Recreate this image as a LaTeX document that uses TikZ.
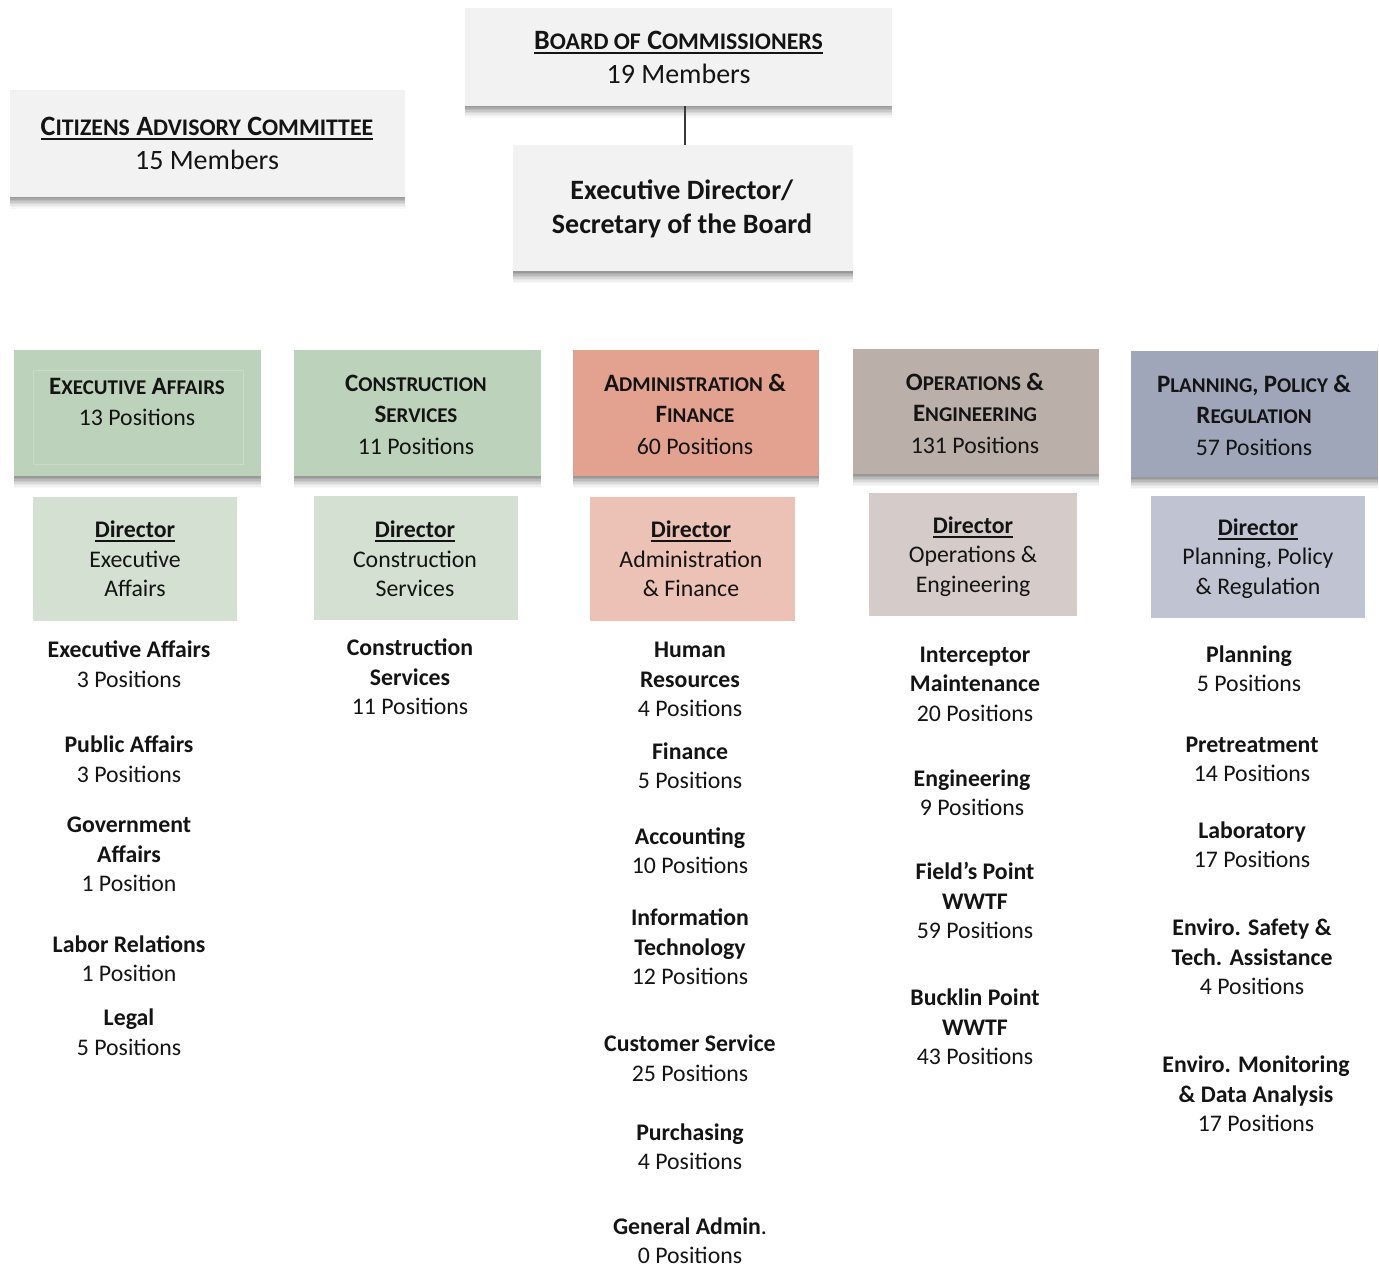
\documentclass[tikz,border=0pt]{standalone}
\usepackage{fontspec}
\setmainfont{Carlito}
\usetikzlibrary{shadows}
\definecolor{txt}{HTML}{141414}
\definecolor{topfill}{HTML}{F2F2F2}
\definecolor{eaF}{HTML}{BDD2BB}
\definecolor{eaD}{HTML}{D4E0D2}
\definecolor{eaL}{HTML}{CADCC7}
\definecolor{afF}{HTML}{E3A18F}
\definecolor{afD}{HTML}{EDC2B6}
\definecolor{oeF}{HTML}{BAAFA9}
\definecolor{oeD}{HTML}{D5CBC8}
\definecolor{ppF}{HTML}{A0A6BA}
\definecolor{ppD}{HTML}{C0C4D2}
\definecolor{lineC}{HTML}{3A3A3A}
\newsavebox\ulbox
\newcommand\ul[1]{\sbox\ulbox{#1}\rlap{\vrule width\wd\ulbox height -2.2pt depth 4.4pt}\usebox\ulbox}
\newcommand\scA[1]{{\fontsize{23.8}{34}\selectfont #1}}
\newcommand\scB[1]{{\fontsize{21}{31.5}\selectfont #1}}
\newcommand\tb[1]{\begin{tabular}{@{}c@{}}#1\end{tabular}}
\newcommand\topf{\fontsize{28}{34}\selectfont}
\newcommand\hdrf{\fontsize{23.8}{31.5}\selectfont}
\newcommand\capB{\fontsize{25}{31.5}\selectfont}
\newcommand\entf{\fontsize{23.8}{29.5}\selectfont}
\tikzset{
  box/.style={draw=none, inner sep=0pt, outer sep=0pt},
  shad/.style={
    drop shadow={shadow xshift=0pt, shadow yshift=-1.5pt, opacity=.12, fill=black!80},
    drop shadow={shadow xshift=0pt, shadow yshift=-3pt, opacity=.12, fill=black!80},
    drop shadow={shadow xshift=0pt, shadow yshift=-4.5pt, opacity=.10, fill=black!80},
    drop shadow={shadow xshift=0pt, shadow yshift=-6pt, opacity=.09, fill=black!80},
    drop shadow={shadow xshift=0pt, shadow yshift=-7.5pt, opacity=.07, fill=black!80},
    drop shadow={shadow xshift=0pt, shadow yshift=-9pt, opacity=.05, fill=black!80},
    drop shadow={shadow xshift=0pt, shadow yshift=-10.5pt, opacity=.04, fill=black!80},
    drop shadow={shadow xshift=0pt, shadow yshift=-12pt, opacity=.03, fill=black!80}},
  txtn/.style={inner sep=0pt, text=txt},
  topT/.style={txtn, font=\topf},
  hdrT/.style={txtn, font=\hdrf},
  entT/.style={txtn, font=\entf}
}
\begin{document}
\begin{tikzpicture}[x=1pt, y=-1pt]
\useasboundingbox (0,0) rectangle (1379,1268);
\fill[white] (0,0) rectangle (1379,1268);

% top boxes
\node[box, shad, fill=topfill, minimum width=427, minimum height=98] (board) at (678.5,57) {};
\node[box, shad, fill=topfill, minimum width=395, minimum height=107] (cac) at (207.5,143.5) {};
\node[box, shad, fill=topfill, minimum width=340, minimum height=126] (execdir) at (683,208) {};
\draw[lineC, line width=1.3pt] ([xshift=6.5pt]board.south) -- ([xshift=6.5pt]board.south |- execdir.north);

\node[topT] (boardT) at (678.5,60) {\tb{\ul{\bfseries B\scA{OARD OF} C\scA{OMMISSIONERS}}\\19 Members}};
\node[topT] (cacT) at (207,146) {\tb{\ul{\bfseries C\scA{ITIZENS} A\scA{DVISORY} C\scA{OMMITTEE}}\\15 Members}};
\node[topT] (execdirT) at (682,210) {\tb{\textbf{Executive Director/}\\\textbf{Secretary of the Board}}};

% department boxes
\node[box, shad, fill=eaF, minimum width=247, minimum height=126] (ea) at (137.5,413) {};
\draw[eaL, line width=0.8pt] (33,370) rectangle (243,464);
\node[box, shad, fill=eaF, minimum width=247, minimum height=126] (cs) at (417.5,413) {};
\node[box, shad, fill=afF, minimum width=246, minimum height=126] (af) at (696,413) {};
\node[box, shad, fill=oeF, minimum width=246, minimum height=125] (oe) at (976,411.5) {};
\node[box, shad, fill=ppF, minimum width=247, minimum height=126] (pp) at (1254.5,414) {};

\node[hdrT] (eaT) at (137,403.5) {\tb{\textbf{{\capB E}\scB{XECUTIVE} {\capB A}\scB{FFAIRS}}\\13 Positions}};
\node[hdrT] (csT) at (416,416.5) {\tb{\textbf{{\capB C}\scB{ONSTRUCTION}}\\\textbf{{\capB S}\scB{ERVICES}}\\11 Positions}};
\node[hdrT] (afT) at (695,416.5) {\tb{\textbf{{\capB A}\scB{DMINISTRATION} {\capB\&}}\\\textbf{{\capB F}\scB{INANCE}}\\60 Positions}};
\node[hdrT] (oeT) at (975,415.5) {\tb{\textbf{{\capB O}\scB{PERATIONS} {\capB\&}}\\\textbf{{\capB E}\scB{NGINEERING}}\\131 Positions}};
\node[hdrT] (ppT) at (1254,417.5) {\tb{\textbf{{\capB P}\scB{LANNING}, {\capB P}\scB{OLICY} {\capB\&}}\\\textbf{{\capB R}\scB{EGULATION}}\\57 Positions}};

% director boxes
\node[box, fill=eaD, minimum width=204, minimum height=124] (ead) at (135,559) {};
\node[box, fill=eaD, minimum width=204, minimum height=124] (csd) at (416,558) {};
\node[box, fill=afD, minimum width=205, minimum height=124] (afd) at (692.5,559) {};
\node[box, fill=oeD, minimum width=208, minimum height=123] (oed) at (973,554.5) {};
\node[box, fill=ppD, minimum width=214, minimum height=122] (ppd) at (1258,557) {};

\node[entT] (eadT) at (135,561.5) {\tb{\textbf{\ul{Director}}\\Executive\\Affairs}};
\node[entT] (csdT) at (415,561.5) {\tb{\textbf{\ul{Director}}\\Construction\\Services}};
\node[entT] (afdT) at (691,561.5) {\tb{\textbf{\ul{Director}}\\Administration\\\& Finance}};
\node[entT] (oedT) at (973,557) {\tb{\textbf{\ul{Director}}\\Operations \&\\Engineering}};
\node[entT] (ppdT) at (1258,559) {\tb{\textbf{\ul{Director}}\\Planning, Policy\\\& Regulation}};

% column 1
\node[entT] (c1a) at (129,666.5) {\tb{\textbf{Executive Affairs}\\3 Positions}};
\node[entT] (c1b) at (129,761.5) {\tb{\textbf{Public Affairs}\\3 Positions}};
\node[entT] (c1c) at (129,856.5) {\tb{\textbf{Government}\\\textbf{Affairs}\\1 Position}};
\node[entT] (c1d) at (129,961) {\tb{\textbf{Labor Relations}\\1 Position}};
\node[entT] (c1e) at (129,1034.5) {\tb{\textbf{Legal}\\5 Positions}};

% column 2
\node[entT] (c2a) at (410,679.5) {\tb{\textbf{Construction}\\\textbf{Services}\\11 Positions}};

% column 3
\node[entT] (c3a) at (690,681.5) {\tb{\textbf{Human}\\\textbf{Resources}\\4 Positions}};
\node[entT] (c3b) at (690,768) {\tb{\textbf{Finance}\\5 Positions}};
\node[entT] (c3c) at (690,853) {\tb{\textbf{Accounting}\\10 Positions}};
\node[entT] (c3d) at (690,949.5) {\tb{\textbf{Information}\\\textbf{Technology}\\12 Positions}};
\node[entT] (c3e) at (690,1060.5) {\tb{\textbf{Customer Service}\\25 Positions}};
\node[entT] (c3f) at (690,1149) {\tb{\textbf{Purchasing}\\4 Positions}};
\node[entT] (c3g) at (690,1243) {\tb{\textbf{General Admin}.\\0 Positions}};

% column 4
\node[entT] (c4a) at (975,686) {\tb{\textbf{Interceptor}\\\textbf{Maintenance}\\20 Positions}};
\node[entT] (c4b) at (972,795) {\tb{\textbf{Engineering}\\9 Positions}};
\node[entT] (c4c) at (975,903.5) {\tb{\textbf{Field's Point}\\\textbf{WWTF}\\59 Positions}};
\node[entT] (c4d) at (975,1029.5) {\tb{\textbf{Bucklin Point}\\\textbf{WWTF}\\43 Positions}};

% column 5
\node[entT] (c5a) at (1249,671) {\tb{\textbf{Planning}\\5 Positions}};
\node[entT] (c5b) at (1252,761) {\tb{\textbf{Pretreatment}\\14 Positions}};
\node[entT] (c5c) at (1252,847) {\tb{\textbf{Laboratory}\\17 Positions}};
\node[entT] (c5d) at (1252,959.5) {\tb{\textbf{Enviro. Safety \&}\\\textbf{Tech. Assistance}\\4 Positions}};
\node[entT] (c5e) at (1256,1096.5) {\tb{\textbf{Enviro. Monitoring}\\\textbf{\& Data Analysis}\\17 Positions}};
\end{tikzpicture}
\end{document}
